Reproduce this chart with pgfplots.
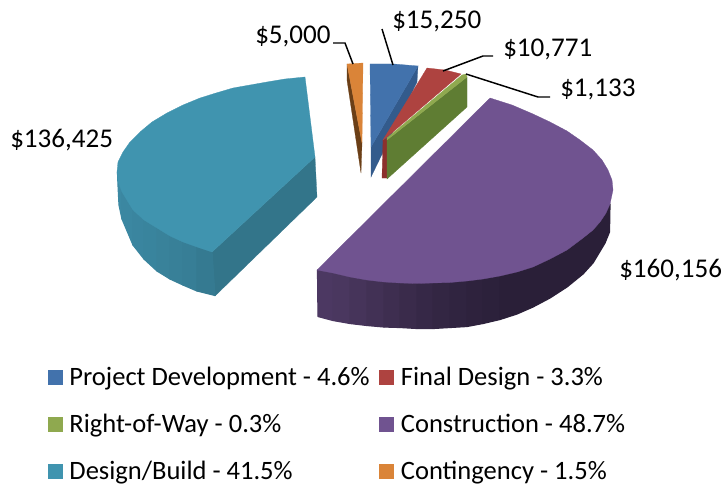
\documentclass[border=0pt]{standalone}
\usepackage{pgfplots}
\pgfplotsset{compat=1.18}
\usepackage{fontspec}
\setmainfont{Carlito}

\definecolor{cBlue}{HTML}{4272AC}
\definecolor{cBlueD}{HTML}{335B8C}
\definecolor{cRed}{HTML}{AE4340}
\definecolor{cRedD}{HTML}{8C302D}
\definecolor{cGreen}{HTML}{8FA94F}
\definecolor{cGreenD}{HTML}{5F7D33}
\definecolor{cPurple}{HTML}{705390}
\definecolor{cTeal}{HTML}{4094AF}
\definecolor{cTealD}{HTML}{33758A}
\definecolor{cOrange}{HTML}{DA8438}
\definecolor{cOrangeD}{HTML}{6B3F17}
\colorlet{pL}{cPurple!68!black}
\definecolor{pD}{HTML}{2A1F38}
\definecolor{tL}{HTML}{3C89A3}
\definecolor{tD}{HTML}{357A91}

\pgfplotsset{
  face/.style={fill=#1,draw=#1,line width=0.2pt},
  band/.style={fill=#1,draw=#1,line width=0.9pt,line join=round},
  lead/.style={black,line width=1.1pt},
  swatch/.style={legend image code/.code={\fill[##1] (0pt,-5.6pt) rectangle (11.25pt,5.6pt);\path (14.25pt,0pt);},fill=#1,draw=none},
}

\begin{document}
\begin{tikzpicture}
\begin{axis}[
  scale only axis, width=543.75pt, height=363.75pt,
  xmin=0, xmax=725, ymin=0, ymax=485, y dir=reverse,
  hide axis, no markers,
  legend columns=2,
  legend cell align=left,
  legend style={at={(axis cs:47.5,364)}, anchor=north west, draw=none, fill=none,
    inner sep=0pt, font=\fontsize{19.9}{24}\selectfont,
    /tikz/row sep=16.1pt,
    /tikz/every even column/.append style={column sep=5.2pt}},
]
\addlegendimage{swatch=cBlue}\addlegendentry{Project Development - 4.6\%}
\addlegendimage{swatch=cRed}\addlegendentry{Final Design - 3.3\%}
\addlegendimage{swatch=cGreen}\addlegendentry{Right-of-Way - 0.3\%}
\addlegendimage{swatch=cPurple}\addlegendentry{Construction - 48.7\%}
\addlegendimage{swatch=cTeal}\addlegendentry{Design/Build - 41.5\%}
\addlegendimage{swatch=cOrange}\addlegendentry{Contingency - 1.5\%}

% keeps the page at the full 725x485 frame
\path (axis cs:0,0) rectangle (axis cs:725,485);

% Design/Build: cut face, curved side bands, top
\addplot[face=cTealD] coordinates {(212,252) (315,157) (317,197) (215,296)} -- cycle;
\addplot[band=tL] coordinates {(117.5,172) (118,185) (119,205) (122,219) (122,192)} -- cycle;
\addplot[band=tL!88!tD] coordinates {(122,192) (133,210) (133,245) (122,219)} -- cycle;
\addplot[band=tL!76!tD] coordinates {(133,210) (144,220) (144,259) (133,245)} -- cycle;
\addplot[band=tL!64!tD] coordinates {(144,220) (157,228) (157,271) (144,259)} -- cycle;
\addplot[band=tL!52!tD] coordinates {(157,228) (170,236) (170,279) (157,271)} -- cycle;
\addplot[band=tL!40!tD] coordinates {(170,236) (183,242) (183,285) (170,279)} -- cycle;
\addplot[band=tL!25!tD] coordinates {(183,242) (197,247) (197,291) (183,285)} -- cycle;
\addplot[band=tD] coordinates {(197,247) (212,252) (215,295.5) (197,291)} -- cycle;
\addplot[face=cTeal] coordinates {(305,77) (285,79) (267,82) (250,85) (233,88) (216,93) (200,98) (183,105)
  (167,113) (152,122) (140,132) (130,142) (123,152) (118,162) (117,172) (118,182) (122,192) (133,210)
  (144,220) (157,228) (170,236) (183,242) (197,247) (212,252) (315,157)} -- cycle;

% Contingency
\addplot[face=cOrangeD] coordinates {(347,64) (362,143) (361,173) (347,80)} -- cycle;
\addplot[face=cOrange] coordinates {(347,64) (363,63) (362,143)} -- cycle;

% Project Development
\addplot[face=cBlueD] coordinates {(418,66) (417,82) (371,177) (371,147)} -- cycle;
\addplot[face=cBlue] coordinates {(370,64) (394,64) (418,66) (371,147)} -- cycle;

% Final Design
\addplot[face=cRedD] coordinates {(383,140) (388,138) (387,178) (382,178)} -- cycle;
\addplot[face=cRed] coordinates {(427,68) (445,70) (461,74) (387,137) (383,140)} -- cycle;

% Right-of-Way
\addplot[face=cGreenD] coordinates {(387,140) (467,77) (467,107) (387,179)} -- cycle;
\addplot[face=cGreen] coordinates {(387,138) (462,75) (466,74) (467,77) (387,140)} -- cycle;

% Construction: curved side bands, top
\addplot[band=pL] coordinates {(317.5,270) (333,273) (333,320.5) (318,316.5)} -- cycle;
\addplot[band=pL!93!pD] coordinates {(333,273) (350,277) (350,323.5) (333,320.5)} -- cycle;
\addplot[band=pL!82!pD] coordinates {(350,277) (367,280) (367,325.5) (350,323.5)} -- cycle;
\addplot[band=pL!70!pD] coordinates {(367,280) (384,282) (384,327) (367,325.5)} -- cycle;
\addplot[band=pL!58!pD] coordinates {(384,282) (400,283) (400,327.5) (384,327)} -- cycle;
\addplot[band=pL!46!pD] coordinates {(400,283) (417,283.5) (417,328.5) (400,327.5)} -- cycle;
\addplot[band=pL!35!pD] coordinates {(417,283.5) (433,283) (433,328.5) (417,328.5)} -- cycle;
\addplot[band=pL!26!pD] coordinates {(433,283) (450,282.5) (450,327.5) (433,328.5)} -- cycle;
\addplot[band=pL!18!pD] coordinates {(450,282.5) (467,281) (467,326.5) (450,327.5)} -- cycle;
\addplot[band=pL!12!pD] coordinates {(467,281) (483,279) (483,323.5) (467,326.5)} -- cycle;
\addplot[band=pL!6!pD] coordinates {(483,279) (500,276) (500,319.5) (483,323.5)} -- cycle;
\addplot[band=pD] coordinates {(500,276) (517,272) (533,267) (550,259) (567,250) (583,238) (593,230) (600,222)
  (606,213) (610,204) (609.5,232) (605,243) (593,263) (583,274) (567,287) (550,298) (533,307) (517,314) (500,319.5)} -- cycle;
\addplot[face=cPurple] coordinates {(490,98) (512,105) (533,114) (550,122) (567,131) (580,140) (593,150)
  (602,160) (608,170) (612,180) (613,190) (610,204) (606,213) (600,222) (593,230) (583,238) (567,250)
  (550,259) (533,267) (517,272) (500,276) (483,279) (467,281) (450,282.5) (433,283) (417,283.5) (400,283)
  (384,282) (367,280) (350,277) (333,273) (317,270)} -- cycle;

% leader lines
\addplot[lead] coordinates {(333,43) (345,43) (353,64)};
\addplot[lead] coordinates {(382,29) (393,65)};
\addplot[lead] coordinates {(443,71) (483,56) (493,56)};
\addplot[lead] coordinates {(466,74) (538,97) (550,97)};

\tikzset{val/.style={font=\fontsize{20.3}{24}\selectfont, inner sep=0pt, anchor=west}}
\node[val] at (axis cs:392,21) {\$15,250};
\node[val] at (axis cs:503,49) {\$10,771};
\node[val] at (axis cs:560,89) {\$1,133};
\node[val] at (axis cs:255,36) {\$5,000};
\node[val] at (axis cs:10,140) {\$136,425};
\node[val] at (axis cs:619,270) {\$160,156};
\end{axis}
\end{tikzpicture}
\end{document}
